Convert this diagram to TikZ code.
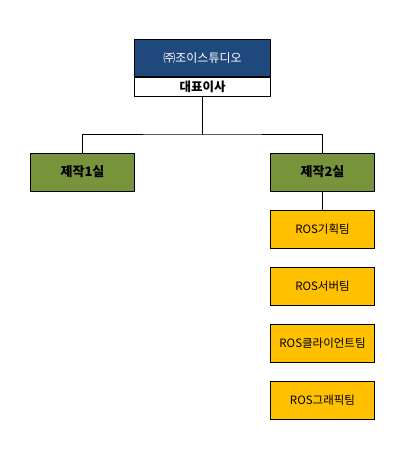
\documentclass[tikz,border=0pt]{standalone}
\usepackage{fontspec}
\setmainfont{Noto Sans CJK KR}
\usetikzlibrary{positioning}
\definecolor{navy}{HTML}{1F497D}
\definecolor{olive}{HTML}{77933C}
\definecolor{amber}{HTML}{FFC000}

\begin{document}
\begin{tikzpicture}[x=1pt,y=-1pt,
        box/.style={draw=black, line width=0.8pt, minimum width=104pt, minimum height=38pt, inner sep=0pt},
        dept/.style={box, fill=olive, font=\fontsize{13}{15}\selectfont\bfseries},
        team/.style={box, fill=amber, font=\fontsize{11.5}{13}\selectfont}]
        \useasboundingbox (0,0) rectangle (411,455);
        \node[draw=black, line width=0.8pt, fill=navy, text=white, minimum width=136pt, minimum height=37.5pt,
            inner sep=0pt, font=\fontsize{12}{14}\selectfont] (corp) at (202.5,58) {㈜조이스튜디오};
        \node[draw=black, line width=0.8pt, fill=white, minimum width=136pt, minimum height=19pt,
            inner sep=0pt, font=\fontsize{12.5}{14}\selectfont\bfseries, below=0pt of corp] (ceo) {대표이사};
        \coordinate (bus) at (202.5,134);
        \node[dept] (dept1) at (82.5,172) {제작1실};
        \node[dept] (dept2) at (322.5,172) {제작2실};
        \node[team] (plan) at (322.5,229) {ROS기획팀};
        \node[team] (server) at (322.5,286) {ROS서버팀};
        \node[team] (client) at (322.5,343) {ROS클라이언트팀};
        \node[team] (graphic) at (322.5,400) {ROS그래픽팀};
        \draw[line width=0.8pt] (ceo.south) -- (bus);
        \draw[line width=0.8pt] (dept1.north) |- (bus) -| (dept2.north);
        \draw[line width=0.8pt] (dept2.south) -- (plan.north);
    \end{tikzpicture}
\end{document}
